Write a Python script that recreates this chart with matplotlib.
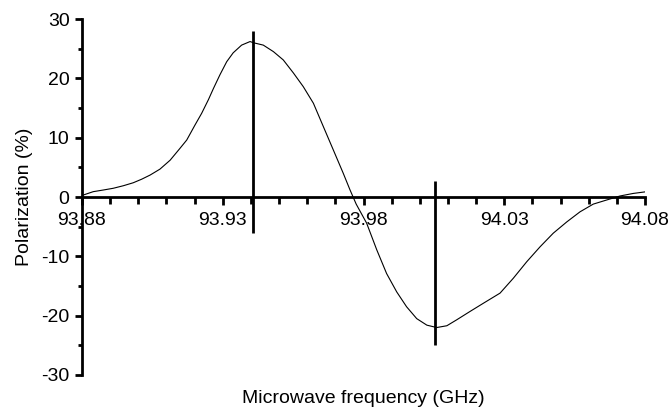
import numpy as np
import matplotlib
matplotlib.use('Agg')
import matplotlib.pyplot as plt
from matplotlib.ticker import MultipleLocator, FixedLocator

# points
freq = [93.8805, 93.884, 93.8876, 93.8911, 93.8947, 93.8982, 93.9012, 93.9042, 93.9077,
        93.9113, 93.9148, 93.9172, 93.9201, 93.9225, 93.9249, 93.9267, 93.929, 93.9314,
        93.9337, 93.9367, 93.9397, 93.9409, 93.9444, 93.948, 93.9515, 93.9551, 93.9586,
        93.9622, 93.9657, 93.9693, 93.9728, 93.9752, 93.9774, 93.9811, 93.9847, 93.9882,
        93.9918, 93.9953, 93.9989, 94.0025, 94.006, 94.0096, 94.0131, 94.0178, 94.0226,
        94.0285, 94.0332, 94.038, 94.0427, 94.0474, 94.0522, 94.0569, 94.0616, 94.0664,
        94.0711, 94.0758, 94.0806]
polar = [0.34, 0.9, 1.18, 1.47, 1.9, 2.4, 3.0, 3.7, 4.7,
         6.2, 8.2, 9.6, 12.1, 14.1, 16.4, 18.3, 20.6, 22.8,
         24.3, 25.6, 26.2, 26.0, 25.6, 24.5, 23.1, 20.9, 18.6,
         15.8, 11.9, 7.9, 4.0, 1.2, -1.2, -4.4, -8.9, -12.9,
         -16.0, -18.5, -20.5, -21.6, -22.0, -21.7, -20.7, -19.3, -17.9,
         -16.2, -13.7, -10.9, -8.4, -6.1, -4.2, -2.5, -1.2, -0.5,
         0.17, 0.6, 0.9]

# vertical markers: (frequency, bottom, top)
markers = [(93.9407, -6.0, 28.0), (94.0055, -25.0, 2.7)]

x_major = [93.88, 93.93, 93.98, 94.03, 94.08]
x_labels = ['93.88', '93.93', '93.98', '94.03', '94.08']

plt.rcParams['font.family'] = ['Liberation Sans', 'DejaVu Sans']
plt.rcParams['font.size'] = 14
plt.rcParams['axes.unicode_minus'] = False

fig = plt.figure(figsize=(6.71, 4.15), dpi=100)
ax = fig.add_axes([0.1222, 0.0964, 0.8391, 0.8578])

ax.plot(freq, polar, color='black', linewidth=0.8)
for f, lo, hi in markers:
    ax.vlines(f, lo, hi, color='black', linewidth=2)

ax.set_xlim(93.88, 94.08)
ax.set_ylim(-30, 30)

ax.spines['top'].set_visible(False)
ax.spines['right'].set_visible(False)
ax.spines['bottom'].set_position(('data', 0))
ax.spines['left'].set_linewidth(2)
ax.spines['bottom'].set_linewidth(2)

ax.xaxis.set_major_locator(FixedLocator(x_major))
ax.set_xticklabels(x_labels)
ax.xaxis.set_minor_locator(FixedLocator([93.88 + 0.01 * i for i in range(21)]))
ax.yaxis.set_major_locator(MultipleLocator(10))
ax.yaxis.set_minor_locator(MultipleLocator(5))

ax.tick_params(axis='x', which='both', direction='out', width=2, pad=5)
ax.tick_params(axis='x', which='major', length=6)
ax.tick_params(axis='x', which='minor', length=5)
ax.tick_params(axis='y', which='major', direction='out', length=5, width=2, pad=4)
ax.tick_params(axis='y', which='minor', direction='out', length=3, width=2)

ax.set_ylabel('Polarization (%)', labelpad=6)
fig.text(0.541, 0.04, 'Microwave frequency (GHz)', ha='center', va='center', fontsize=14)

fig.savefig('out.png', dpi=100)
